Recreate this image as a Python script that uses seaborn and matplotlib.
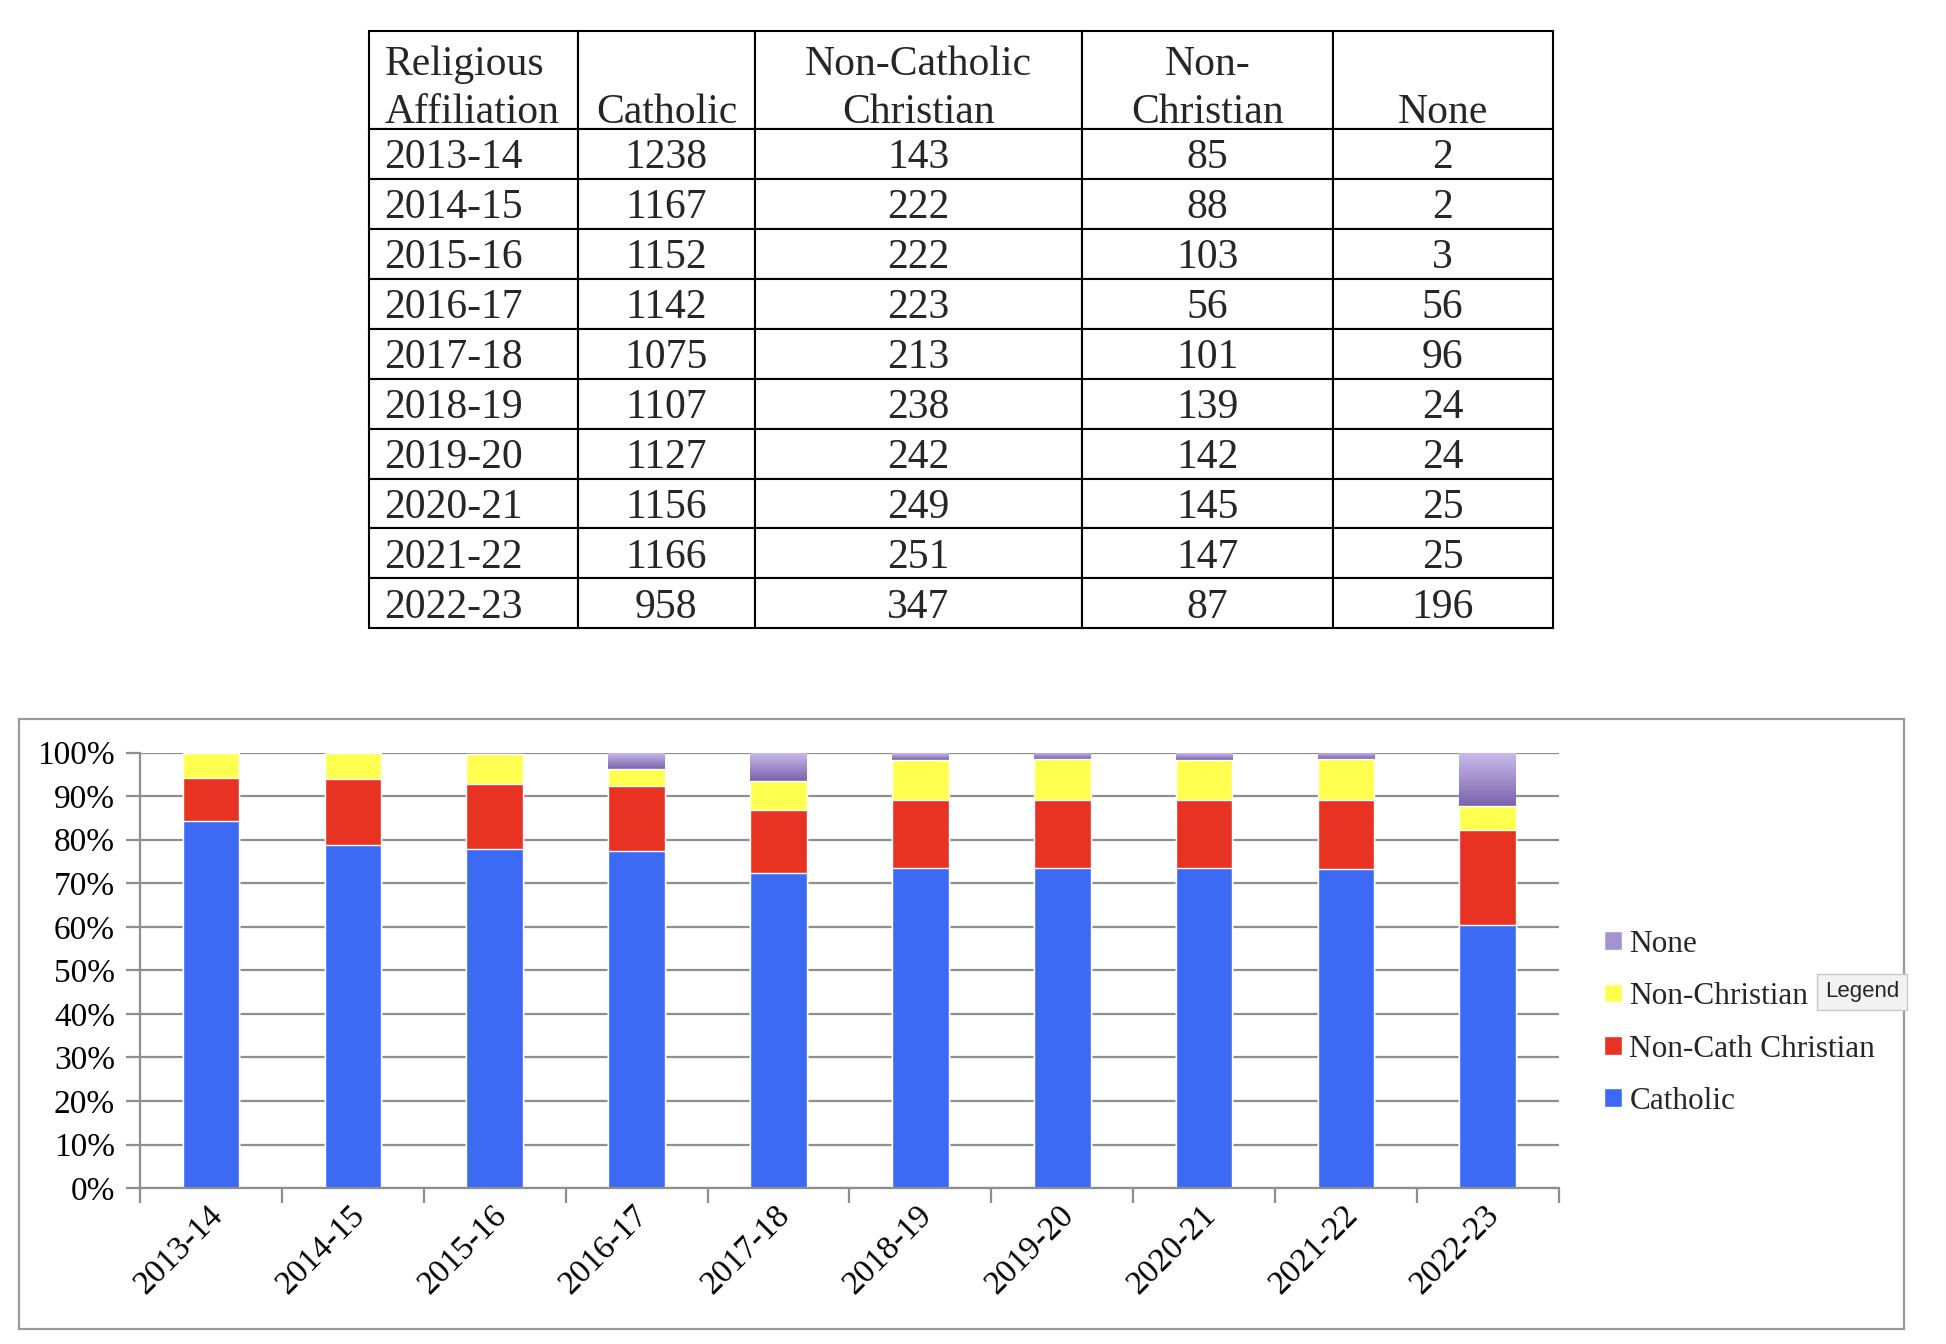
import numpy as np
import pandas as pd
import seaborn as sns
import matplotlib.pyplot as plt
import matplotlib.transforms as mtransforms
from matplotlib.patches import Patch, Rectangle
from matplotlib.colors import LinearSegmentedColormap

years = ['2013-14', '2014-15', '2015-16', '2016-17', '2017-18',
         '2018-19', '2019-20', '2020-21', '2021-22', '2022-23']
catholic = [1238, 1167, 1152, 1142, 1075, 1107, 1127, 1156, 1166, 958]
non_cath = [143, 222, 222, 223, 213, 238, 242, 249, 251, 347]
non_christian = [85, 88, 103, 56, 101, 139, 142, 145, 147, 87]
none = [2, 2, 3, 56, 96, 24, 24, 25, 25, 196]

header = ['Religious\nAffiliation', '\nCatholic', 'Non-Catholic\nChristian',
          'Non-\nChristian', '\nNone']
legend_labels = ['None', 'Non-Christian', 'Non-Cath Christian', 'Catholic']

blue = '#3c6af4'
red = '#e83323'
yellow = '#ffff50'
purple = '#a592d3'
grid_col = '#8e8e8e'

sns.set_theme(style="whitegrid")
plt.rcParams['font.family'] = ['Liberation Serif', 'DejaVu Serif']

df = pd.DataFrame({'year': years, 'Catholic': catholic, 'NonCath': non_cath,
                   'NonChristian': non_christian, 'None': none})
total = df[['Catholic', 'NonCath', 'NonChristian', 'None']].sum(axis=1)
df['c1'] = df['Catholic'] / total
df['c2'] = df['c1'] + df['NonCath'] / total
df['c3'] = df['c2'] + df['NonChristian'] / total
df['c4'] = df['c3'] + df['None'] / total

fig = plt.figure(figsize=(19.46, 13.44), dpi=100)

# ---- table on top
tax = fig.add_axes([0.1894, 0.5324, 0.6084, 0.4444])
tax.axis('off')
cell_text = [[y, str(a), str(b), str(c), str(d)]
             for y, a, b, c, d in zip(years, catholic, non_cath, non_christian, none)]
tbl = tax.table(cellText=cell_text, colLabels=header,
                colWidths=[169, 142, 264, 202, 177], cellLoc='center',
                bbox=[0, 0, 1, 1])
tbl.auto_set_font_size(False)
tbl.set_fontsize(30)
for (r, c), cell in tbl.get_celld().items():
    cell.set_edgecolor('black')
    cell.set_linewidth(1.5)
    cell.set_facecolor('white')
    cell.set_height(78 if r == 0 else 40)
    txt = cell.get_text()
    txt.set_fontfamily('Liberation Serif')
    if c == 0:
        cell._loc = 'left'
        cell.PAD = 0.075
        txt.set_ha('left')
    if r == 0:
        txt.set_linespacing(1.3)
        txt.set_va('center_baseline')
    else:
        txt.set_va('center_baseline')

# ---- stacked 100% bar chart
ax = fig.add_axes([0.072, 0.116, 0.729, 0.324])
sns.barplot(data=df, x='year', y='c4', color=purple, width=0.4,
            saturation=1, errorbar=None, ax=ax)
top_bars = list(ax.patches)

# gradient for the "None" segment
cmap = LinearSegmentedColormap.from_list('nonegrad', ['#cbbcee', '#7a62ac'])
grad = np.linspace(0, 1, 200).reshape(-1, 1)
for p, lo in zip(top_bars, df['c3']):
    ax.imshow(grad, extent=[p.get_x(), p.get_x() + p.get_width(), lo, p.get_height()],
              aspect='auto', cmap=cmap, zorder=1, interpolation='bilinear')
    p.set_visible(False)

sns.barplot(data=df, x='year', y='c3', color=yellow, width=0.4,
            saturation=1, errorbar=None, ax=ax)
sns.barplot(data=df, x='year', y='c2', color=red, width=0.4,
            saturation=1, errorbar=None, ax=ax)
sns.barplot(data=df, x='year', y='c1', color=blue, width=0.4,
            saturation=1, errorbar=None, ax=ax)

ax.set_xlim(-0.5, len(years) - 0.5)
ax.set_ylim(0, 1)
ax.set_xlabel('')
ax.set_ylabel('')
ax.set_axisbelow(True)
ax.xaxis.grid(False)
ax.yaxis.grid(True, color=grid_col, lw=1.6)
for s in ['top', 'right']:
    ax.spines[s].set_visible(False)
for s in ['left', 'bottom']:
    ax.spines[s].set_visible(True)
    ax.spines[s].set_color(grid_col)
    ax.spines[s].set_linewidth(1.6)

yt = np.arange(0, 1.01, 0.1)
ax.set_yticks(yt)
ax.set_yticklabels([f"{int(round(v * 100))}%" for v in yt])
ax.tick_params(axis='y', left=True, length=10, width=1.6, color=grid_col,
               pad=8, labelsize=24, labelcolor='black')

ax.set_xticks(range(len(years)))
ax.set_xticks(np.arange(-0.5, len(years), 1), minor=True)
ax.tick_params(axis='x', which='major', length=0, pad=16, labelsize=24,
               labelcolor='black')
ax.tick_params(axis='x', which='minor', bottom=True, length=11, width=1.6,
               color=grid_col)
shift = mtransforms.ScaledTranslation(0.07, 0, fig.dpi_scale_trans)
for lab in ax.get_xticklabels():
    lab.set_rotation(45)
    lab.set_ha('right')
    lab.set_va('center')
    lab.set_rotation_mode('anchor')
    lab.set_transform(lab.get_transform() + shift)

handles = [Patch(facecolor=c, label=l)
           for c, l in zip([purple, yellow, red, blue], legend_labels)]
fig.legend(handles=handles, loc='center left', bbox_to_anchor=(0.8245, 0.239),
           frameon=False, fontsize=22.5, handlelength=0.55, handleheight=0.55,
           handletextpad=0.25, labelspacing=0.75, borderaxespad=0,
           borderpad=0)

fig.text(0.957, 0.262, 'Legend', family='Liberation Sans', fontsize=16,
         ha='center', va='center',
         bbox=dict(boxstyle='square,pad=0.35', fc='#f2f2f2', ec='#c8c8c8', lw=1))

fig.add_artist(Rectangle((0.0096, 0.011), 0.969, 0.454, transform=fig.transFigure,
                         fill=False, edgecolor='#9a9a9a', lw=1.6))

fig.savefig('out.png', dpi=100, facecolor='white')
